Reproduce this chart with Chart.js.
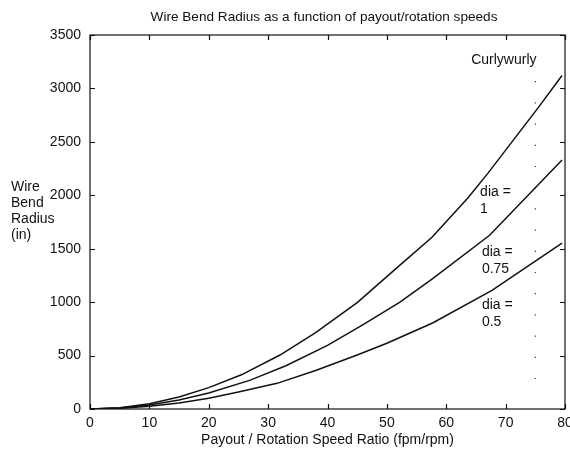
<!DOCTYPE html>
<html>
<head>
<meta charset="utf-8">
<script src="https://cdn.jsdelivr.net/npm/chart.js@4"></script>
<style>
  html, body { margin: 0; padding: 0; background: #fff; }
  #wrap { width: 570px; height: 451px; position: relative; }
</style>
</head>
<body>
<div id="wrap"><canvas id="chart"></canvas></div>
<script>
/* wire bend radius vs payout/rotation speed ratio */

const FONT = '"Liberation Sans", Arial, Helvetica, sans-serif';
const INK = '#111';

const X_TICKS = [0, 10, 20, 30, 40, 50, 60, 70, 80];
const Y_TICKS = [0, 500, 1000, 1500, 2000, 2500, 3000, 3500];

// dia = 1
const ratioDia1 = [0, 5, 10, 15, 20, 25.5, 32, 38, 45, 52.2, 57.6, 63.6, 67, 75.4, 79.5];
const radiusDia1 = [0, 12, 50, 112, 200, 320, 505, 715, 995, 1346, 1607, 1972, 2205, 2813, 3121];

// dia = 0.75
const ratioDia075 = [0, 5, 10, 15, 20, 27, 33, 40, 46, 52.2, 57.6, 67.3, 79.5];
const radiusDia075 = [0, 9, 38, 84, 150, 270, 405, 595, 790, 1000, 1215, 1626, 2330];

// dia = 0.5
const ratioDia05 = [0, 5, 10, 15, 20, 25, 31.5, 38, 45, 50, 57.7, 67.7, 79.5];
const radiusDia05 = [0, 6, 25, 56, 100, 160, 240, 360, 505, 615, 805, 1110, 1553];

// dotted marker line
const markerX = [75, 75];
const markerY = [280, 3120];

// text notes placed in data units
const NOTES = [
  { text: 'Curlywurly', x: 64.2, y: 3262 },
  { text: 'dia =', x: 65.7, y: 2028 },
  { text: '1', x: 65.7, y: 1869 },
  { text: 'dia =', x: 66, y: 1467 },
  { text: '0.75', x: 66, y: 1308 },
  { text: 'dia =', x: 66, y: 972 },
  { text: '0.5', x: 66, y: 813 },
];

const Y_LABEL = ['Wire', 'Bend', 'Radius', '(in)'];
const TITLE = 'Wire Bend Radius as a function of payout/rotation speeds';

function toPoints(xs, ys) {
  return xs.map((x, i) => ({ x, y: ys[i] }));
}

function lineSet(xs, ys) {
  return {
    data: toPoints(xs, ys),
    borderColor: INK,
    borderWidth: 1.5,
    pointRadius: 0,
    tension: 0,
  };
}

const decorations = {
  id: 'decorations',
  afterDraw(chart) {
    const { ctx, chartArea: a, scales: { x, y } } = chart;
    ctx.save();
    ctx.strokeStyle = INK;
    ctx.lineWidth = 1.2;
    ctx.strokeRect(a.left, a.top, a.right - a.left, a.bottom - a.top);

    // inward ticks on all four sides
    ctx.beginPath();
    for (const v of X_TICKS) {
      const px = Math.round(x.getPixelForValue(v)) + 0.5;
      ctx.moveTo(px, a.bottom); ctx.lineTo(px, a.bottom - 5);
      ctx.moveTo(px, a.top); ctx.lineTo(px, a.top + 5);
    }
    for (const v of Y_TICKS) {
      const py = Math.round(y.getPixelForValue(v)) + 0.5;
      ctx.moveTo(a.left, py); ctx.lineTo(a.left + 5, py);
      ctx.moveTo(a.right, py); ctx.lineTo(a.right - 5, py);
    }
    ctx.stroke();

    ctx.fillStyle = INK;
    ctx.font = `13.6px ${FONT}`;
    ctx.textAlign = 'center';
    ctx.textBaseline = 'middle';
    ctx.fillText(TITLE, 324, 17);

    ctx.font = `14px ${FONT}`;
    ctx.textAlign = 'left';
    Y_LABEL.forEach((t, i) => ctx.fillText(t, 11, 187 + i * 16.2));

    for (const n of NOTES) {
      ctx.fillText(n.text, x.getPixelForValue(n.x), y.getPixelForValue(n.y));
    }
    ctx.restore();
  }
};

new Chart(document.getElementById('chart'), {
  type: 'line',
  data: {
    datasets: [
      lineSet(ratioDia1, radiusDia1),
      lineSet(ratioDia075, radiusDia075),
      lineSet(ratioDia05, radiusDia05),
      {
        data: toPoints(markerX, markerY),
        borderColor: '#333',
        borderWidth: 1.2,
        borderDash: [1.2, 20],
        pointRadius: 0,
      },
    ]
  },
  plugins: [decorations],
  options: {
    responsive: true,
    maintainAspectRatio: false,
    animation: false,
    events: [],
    layout: { autoPadding: false, padding: { top: 35, right: 5, left: 0, bottom: 0 } },
    plugins: { legend: { display: false }, tooltip: { enabled: false }, title: { display: false } },
    scales: {
      x: {
        type: 'linear',
        min: 0, max: 80,
        afterFit: s => { s.height = 42; s.paddingLeft = 0; s.paddingRight = 0; },
        afterBuildTicks: s => { s.ticks = X_TICKS.map(v => ({ value: v })); },
        grid: { display: false, drawTicks: false },
        border: { display: false },
        ticks: { color: INK, font: { family: FONT, size: 14 }, padding: 6, maxRotation: 0, autoSkip: false },
        title: {
          display: true,
          text: 'Payout / Rotation Speed Ratio (fpm/rpm)',
          color: INK,
          font: { family: FONT, size: 14 },
          padding: { top: 0, bottom: 2 }
        }
      },
      y: {
        type: 'linear',
        min: 0, max: 3500,
        afterFit: s => { s.width = 90; s.paddingTop = 0; s.paddingBottom = 0; },
        afterBuildTicks: s => { s.ticks = Y_TICKS.map(v => ({ value: v })); },
        grid: { display: false, drawTicks: false },
        border: { display: false },
        ticks: { color: INK, font: { family: FONT, size: 14 }, padding: 9, callback: v => String(v) }
      }
    }
  }
});
</script>
</body>
</html>
